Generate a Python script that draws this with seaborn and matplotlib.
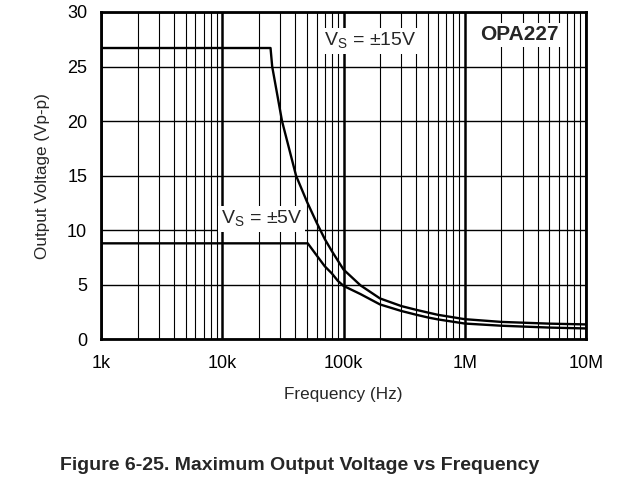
import matplotlib
matplotlib.use("Agg")
import matplotlib.pyplot as plt
import seaborn as sns
import pandas as pd
from matplotlib.ticker import LogLocator, NullFormatter

sns.set_style("white")
plt.rcParams["font.family"] = ["Liberation Sans", "DejaVu Sans"]
plt.rcParams["mathtext.fontset"] = "custom"
plt.rcParams["mathtext.rm"] = "Liberation Sans"

# values
freq_15v = [1e3, 25e3, 25.8e3, 31.1e3, 40.6e3, 50e3, 60e3, 70e3, 80e3, 90e3,
            100e3, 138e3, 200e3, 300e3, 400e3, 500e3, 600e3, 1e6, 2e6, 5e6, 10e6]
vout_15v = [26.7, 26.7, 25.0, 20.0, 15.0, 12.6, 10.7, 9.2, 8.1, 7.2,
            6.4, 4.95, 3.75, 3.05, 2.7, 2.45, 2.25, 1.85, 1.6, 1.44, 1.37]
freq_5v = [1e3, 50.7e3, 60e3, 70e3, 80e3, 90e3, 100e3, 138e3, 200e3, 300e3,
           400e3, 500e3, 600e3, 1e6, 2e6, 5e6, 10e6]
vout_5v = [8.8, 8.8, 7.7, 6.7, 6.05, 5.35, 4.9, 4.15, 3.2, 2.6,
           2.25, 2.0, 1.83, 1.45, 1.25, 1.08, 1.0]
x_ticks = [1e3, 1e4, 1e5, 1e6, 1e7]
x_labels = ["1k", "10k", "100k", "1M", "10M"]
y_ticks = [0, 5, 10, 15, 20, 25, 30]

df15 = pd.DataFrame({"f": freq_15v, "v": vout_15v})
df5 = pd.DataFrame({"f": freq_5v, "v": vout_5v})

fig = plt.figure(figsize=(6.24, 4.8), dpi=100)
ax = fig.add_axes([0.162, 0.293, 0.777, 0.682])

sns.lineplot(data=df15, x="f", y="v", ax=ax, color="black", lw=1.7, zorder=4, sort=False)
sns.lineplot(data=df5, x="f", y="v", ax=ax, color="black", lw=1.7, zorder=4, sort=False)

ax.set_xscale("log")
ax.set_xlim(1e3, 1e7)
ax.set_ylim(0, 30)
ax.set_xticks(x_ticks)
ax.set_xticklabels(x_labels)
ax.xaxis.set_minor_locator(LogLocator(base=10, subs=range(2, 10)))
ax.xaxis.set_minor_formatter(NullFormatter())
ax.set_yticks(y_ticks)

ax.xaxis.grid(True, which="major", color="black", lw=1.8)
ax.xaxis.grid(True, which="minor", color="black", lw=0.8)
ax.yaxis.grid(True, which="major", color="black", lw=1.0)
ax.set_axisbelow(True)

for s in ax.spines.values():
    s.set_color("black")
    s.set_linewidth(2)
    s.set_zorder(5)

ax.tick_params(axis="both", which="both", length=0, labelsize=13, colors="black")
ax.tick_params(axis="x", pad=11)
ax.tick_params(axis="y", pad=10)

ax.set_xlabel("Frequency (Hz)", fontsize=12.3, labelpad=11)
ax.set_ylabel("Output Voltage (Vp-p)", fontsize=12.3, labelpad=12)

box = dict(facecolor="white", edgecolor="none", pad=2)
ax.text(167e3, 27.35, r"V$_\mathrm{S}$ = ±15V", fontsize=14, ha="center", va="center",
        bbox=box, zorder=3)
ax.text(21e3, 11.0, r"V$_\mathrm{S}$ = ±5V", fontsize=14, ha="center", va="center",
        bbox=box, zorder=3)
ax.text(2.85e6, 27.9, "OPA227", fontsize=15, fontweight="bold", ha="center", va="center",
        bbox=box, zorder=3)

fig.text(0.48, 0.031, "Figure 6-25. Maximum Output Voltage vs Frequency",
         fontsize=14, fontweight="bold", ha="center", va="center")

fig.savefig("out.png", dpi=100)
